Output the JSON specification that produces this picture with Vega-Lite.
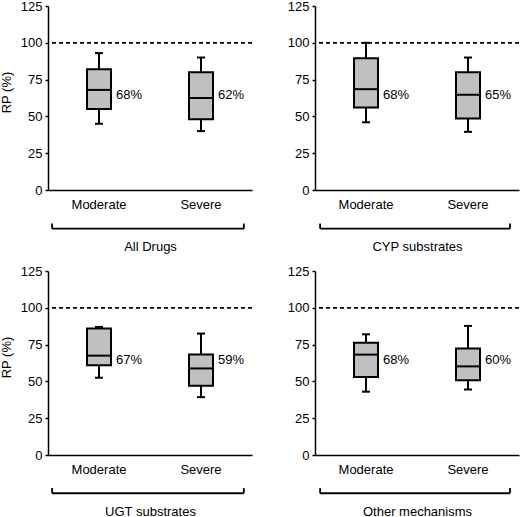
{
  "$schema": "https://vega.github.io/schema/vega-lite/v6.json",
  "padding": {"left": 0, "top": 0, "right": 0, "bottom": 0},
  "background": "white",
  "config": {
    "view": {"stroke": null},
    "font": "Liberation Sans",
    "axis": {
      "domainColor": "black", "domainWidth": 1.5,
      "tickColor": "black", "tickWidth": 1.5,
      "labelColor": "black", "labelFont": "Liberation Sans", "labelFontSize": 13,
      "titleColor": "black", "titleFont": "Liberation Sans", "titleFontSize": 13, "titleFontWeight": "normal",
      "grid": false
    }
  },
  "data": {"values": [
    {"group": "All Drugs", "severity": "Moderate", "min": 45, "q1": 55, "median": 68, "q3": 82, "max": 93, "label": "68%"},
    {"group": "All Drugs", "severity": "Severe", "min": 40, "q1": 48, "median": 62.5, "q3": 80, "max": 90, "label": "62%"},
    {"group": "CYP substrates", "severity": "Moderate", "min": 46, "q1": 56, "median": 68.5, "q3": 89.5, "max": 100, "label": "68%"},
    {"group": "CYP substrates", "severity": "Severe", "min": 39.5, "q1": 48.5, "median": 64.7, "q3": 80, "max": 90, "label": "65%"},
    {"group": "UGT substrates", "severity": "Moderate", "min": 52.5, "q1": 61, "median": 67.5, "q3": 86, "max": 87, "label": "67%"},
    {"group": "UGT substrates", "severity": "Severe", "min": 39.3, "q1": 47, "median": 58.8, "q3": 68.2, "max": 82.5, "label": "59%"},
    {"group": "Other mechanisms", "severity": "Moderate", "min": 43, "q1": 53, "median": 68.2, "q3": 76.3, "max": 82, "label": "68%"},
    {"group": "Other mechanisms", "severity": "Severe", "min": 44.5, "q1": 50.7, "median": 60.2, "q3": 72.3, "max": 87.7, "label": "60%"}
  ]},
  "columns": 2,
  "spacing": {"row": 12, "column": 34},
  "concat": [
    {
      "width": 204, "height": 184,
      "resolve": {"scale": {"x": "independent"}},
      "layer": [
        {
          "transform": [{"filter": "datum.group === 'All Drugs'"}],
          "encoding": {
            "x": {"field": "severity", "type": "nominal", "sort": ["Moderate", "Severe"],
                  "scale": {"paddingInner": 0, "paddingOuter": 0},
                  "axis": {"title": "All Drugs", "ticks": false, "tickSize": 0, "labelPadding": 8, "labelAngle": 0, "titlePadding": 29}}
          },
          "layer": [
            {"mark": {"type": "rule", "strokeDash": [4, 3], "strokeWidth": 1.5, "color": "black"},
             "encoding": {"x": null, "y": {"datum": 100, "type": "quantitative", "scale": {"domain": [0, 125], "nice": false},
               "axis": {"values": [0, 25, 50, 75, 100, 125], "tickSize": 3, "labelPadding": 3, "title": "RP (%)", "titlePadding": 7, "titleY": 86}}}},
            {"mark": {"type": "rule", "strokeWidth": 2, "color": "black"},
             "encoding": {"y": {"field": "min", "type": "quantitative", "axis": {"values": [0, 25, 50, 75, 100, 125], "tickSize": 3, "labelPadding": 3, "title": "RP (%)", "titlePadding": 7, "titleY": 86}}, "y2": {"field": "max"}}},
            {"mark": {"type": "tick", "orient": "horizontal", "size": 8, "thickness": 2, "color": "black", "opacity": 1},
             "encoding": {"y": {"field": "min", "type": "quantitative", "axis": {"values": [0, 25, 50, 75, 100, 125], "tickSize": 3, "labelPadding": 3, "title": "RP (%)", "titlePadding": 7, "titleY": 86}}}},
            {"mark": {"type": "tick", "orient": "horizontal", "size": 8, "thickness": 2, "color": "black", "opacity": 1},
             "encoding": {"y": {"field": "max", "type": "quantitative", "axis": {"values": [0, 25, 50, 75, 100, 125], "tickSize": 3, "labelPadding": 3, "title": "RP (%)", "titlePadding": 7, "titleY": 86}}}},
            {"mark": {"type": "bar", "size": 24, "fill": "#c0c0c0", "stroke": "black", "strokeWidth": 2},
             "encoding": {"y": {"field": "q1", "type": "quantitative", "axis": {"values": [0, 25, 50, 75, 100, 125], "tickSize": 3, "labelPadding": 3, "title": "RP (%)", "titlePadding": 7, "titleY": 86}}, "y2": {"field": "q3"}}},
            {"mark": {"type": "tick", "orient": "horizontal", "size": 24, "thickness": 2, "color": "black", "opacity": 1},
             "encoding": {"y": {"field": "median", "type": "quantitative", "axis": {"values": [0, 25, 50, 75, 100, 125], "tickSize": 3, "labelPadding": 3, "title": "RP (%)", "titlePadding": 7, "titleY": 86}}}},
            {"mark": {"type": "text", "align": "left", "baseline": "middle", "dx": 17, "fontSize": 13, "color": "black"},
             "encoding": {"y": {"datum": 64.5, "type": "quantitative", "axis": {"values": [0, 25, 50, 75, 100, 125], "tickSize": 3, "labelPadding": 3, "title": "RP (%)", "titlePadding": 7, "titleY": 86}}, "text": {"field": "label"}}}
          ]
        },
        {"data": {"values": [{}]}, "mark": {"type": "rule", "strokeWidth": 1.8, "color": "black"},
         "encoding": {"x": {"datum": 0.02, "type": "quantitative", "scale": {"domain": [0, 1]}, "axis": null}, "x2": {"datum": 0.96},
           "y": {"datum": -26.3, "type": "quantitative", "axis": {"values": [0, 25, 50, 75, 100, 125], "tickSize": 3, "labelPadding": 3, "title": "RP (%)", "titlePadding": 7, "titleY": 86}}}},
        {"data": {"values": [{}]}, "mark": {"type": "rule", "strokeWidth": 1.8, "color": "black"},
         "encoding": {"x": {"datum": 0.02, "type": "quantitative", "scale": {"domain": [0, 1]}, "axis": null},
           "y": {"datum": -26.3, "type": "quantitative", "axis": {"values": [0, 25, 50, 75, 100, 125], "tickSize": 3, "labelPadding": 3, "title": "RP (%)", "titlePadding": 7, "titleY": 86}}, "y2": {"datum": -22.8}}},
        {"data": {"values": [{}]}, "mark": {"type": "rule", "strokeWidth": 1.8, "color": "black"},
         "encoding": {"x": {"datum": 0.96, "type": "quantitative", "scale": {"domain": [0, 1]}, "axis": null},
           "y": {"datum": -26.3, "type": "quantitative", "axis": {"values": [0, 25, 50, 75, 100, 125], "tickSize": 3, "labelPadding": 3, "title": "RP (%)", "titlePadding": 7, "titleY": 86}}, "y2": {"datum": -22.8}}}
      ]
    },
    {
      "width": 204, "height": 184,
      "resolve": {"scale": {"x": "independent"}},
      "layer": [
        {
          "transform": [{"filter": "datum.group === 'CYP substrates'"}],
          "encoding": {
            "x": {"field": "severity", "type": "nominal", "sort": ["Moderate", "Severe"],
                  "scale": {"paddingInner": 0, "paddingOuter": 0},
                  "axis": {"title": "CYP substrates", "ticks": false, "tickSize": 0, "labelPadding": 8, "labelAngle": 0, "titlePadding": 29}}
          },
          "layer": [
            {"mark": {"type": "rule", "strokeDash": [4, 3], "strokeWidth": 1.5, "color": "black"},
             "encoding": {"x": null, "y": {"datum": 100, "type": "quantitative", "scale": {"domain": [0, 125], "nice": false},
               "axis": {"values": [0, 25, 50, 75, 100, 125], "tickSize": 3, "labelPadding": 3, "title": null}}}},
            {"mark": {"type": "rule", "strokeWidth": 2, "color": "black"},
             "encoding": {"y": {"field": "min", "type": "quantitative", "axis": {"values": [0, 25, 50, 75, 100, 125], "tickSize": 3, "labelPadding": 3, "title": null}}, "y2": {"field": "max"}}},
            {"mark": {"type": "tick", "orient": "horizontal", "size": 8, "thickness": 2, "color": "black", "opacity": 1},
             "encoding": {"y": {"field": "min", "type": "quantitative", "axis": {"values": [0, 25, 50, 75, 100, 125], "tickSize": 3, "labelPadding": 3, "title": null}}}},
            {"mark": {"type": "tick", "orient": "horizontal", "size": 8, "thickness": 2, "color": "black", "opacity": 1},
             "encoding": {"y": {"field": "max", "type": "quantitative", "axis": {"values": [0, 25, 50, 75, 100, 125], "tickSize": 3, "labelPadding": 3, "title": null}}}},
            {"mark": {"type": "bar", "size": 24, "fill": "#c0c0c0", "stroke": "black", "strokeWidth": 2},
             "encoding": {"y": {"field": "q1", "type": "quantitative", "axis": {"values": [0, 25, 50, 75, 100, 125], "tickSize": 3, "labelPadding": 3, "title": null}}, "y2": {"field": "q3"}}},
            {"mark": {"type": "tick", "orient": "horizontal", "size": 24, "thickness": 2, "color": "black", "opacity": 1},
             "encoding": {"y": {"field": "median", "type": "quantitative", "axis": {"values": [0, 25, 50, 75, 100, 125], "tickSize": 3, "labelPadding": 3, "title": null}}}},
            {"mark": {"type": "text", "align": "left", "baseline": "middle", "dx": 17, "fontSize": 13, "color": "black"},
             "encoding": {"y": {"datum": 64.5, "type": "quantitative", "axis": {"values": [0, 25, 50, 75, 100, 125], "tickSize": 3, "labelPadding": 3, "title": null}}, "text": {"field": "label"}}}
          ]
        },
        {"data": {"values": [{}]}, "mark": {"type": "rule", "strokeWidth": 1.8, "color": "black"},
         "encoding": {"x": {"datum": 0.025, "type": "quantitative", "scale": {"domain": [0, 1]}, "axis": null}, "x2": {"datum": 0.956},
           "y": {"datum": -26.3, "type": "quantitative", "axis": {"values": [0, 25, 50, 75, 100, 125], "tickSize": 3, "labelPadding": 3, "title": null}}}},
        {"data": {"values": [{}]}, "mark": {"type": "rule", "strokeWidth": 1.8, "color": "black"},
         "encoding": {"x": {"datum": 0.025, "type": "quantitative", "scale": {"domain": [0, 1]}, "axis": null},
           "y": {"datum": -26.3, "type": "quantitative", "axis": {"values": [0, 25, 50, 75, 100, 125], "tickSize": 3, "labelPadding": 3, "title": null}}, "y2": {"datum": -22.8}}},
        {"data": {"values": [{}]}, "mark": {"type": "rule", "strokeWidth": 1.8, "color": "black"},
         "encoding": {"x": {"datum": 0.956, "type": "quantitative", "scale": {"domain": [0, 1]}, "axis": null},
           "y": {"datum": -26.3, "type": "quantitative", "axis": {"values": [0, 25, 50, 75, 100, 125], "tickSize": 3, "labelPadding": 3, "title": null}}, "y2": {"datum": -22.8}}}
      ]
    },
    {
      "width": 204, "height": 184,
      "resolve": {"scale": {"x": "independent"}},
      "layer": [
        {
          "transform": [{"filter": "datum.group === 'UGT substrates'"}],
          "encoding": {
            "x": {"field": "severity", "type": "nominal", "sort": ["Moderate", "Severe"],
                  "scale": {"paddingInner": 0, "paddingOuter": 0},
                  "axis": {"title": "UGT substrates", "ticks": false, "tickSize": 0, "labelPadding": 8, "labelAngle": 0, "titlePadding": 29}}
          },
          "layer": [
            {"mark": {"type": "rule", "strokeDash": [4, 3], "strokeWidth": 1.5, "color": "black"},
             "encoding": {"x": null, "y": {"datum": 100, "type": "quantitative", "scale": {"domain": [0, 125], "nice": false},
               "axis": {"values": [0, 25, 50, 75, 100, 125], "tickSize": 3, "labelPadding": 3, "title": "RP (%)", "titlePadding": 7, "titleY": 86}}}},
            {"mark": {"type": "rule", "strokeWidth": 2, "color": "black"},
             "encoding": {"y": {"field": "min", "type": "quantitative", "axis": {"values": [0, 25, 50, 75, 100, 125], "tickSize": 3, "labelPadding": 3, "title": "RP (%)", "titlePadding": 7, "titleY": 86}}, "y2": {"field": "max"}}},
            {"mark": {"type": "tick", "orient": "horizontal", "size": 8, "thickness": 2, "color": "black", "opacity": 1},
             "encoding": {"y": {"field": "min", "type": "quantitative", "axis": {"values": [0, 25, 50, 75, 100, 125], "tickSize": 3, "labelPadding": 3, "title": "RP (%)", "titlePadding": 7, "titleY": 86}}}},
            {"mark": {"type": "tick", "orient": "horizontal", "size": 8, "thickness": 2, "color": "black", "opacity": 1},
             "encoding": {"y": {"field": "max", "type": "quantitative", "axis": {"values": [0, 25, 50, 75, 100, 125], "tickSize": 3, "labelPadding": 3, "title": "RP (%)", "titlePadding": 7, "titleY": 86}}}},
            {"mark": {"type": "bar", "size": 24, "fill": "#c0c0c0", "stroke": "black", "strokeWidth": 2},
             "encoding": {"y": {"field": "q1", "type": "quantitative", "axis": {"values": [0, 25, 50, 75, 100, 125], "tickSize": 3, "labelPadding": 3, "title": "RP (%)", "titlePadding": 7, "titleY": 86}}, "y2": {"field": "q3"}}},
            {"mark": {"type": "tick", "orient": "horizontal", "size": 24, "thickness": 2, "color": "black", "opacity": 1},
             "encoding": {"y": {"field": "median", "type": "quantitative", "axis": {"values": [0, 25, 50, 75, 100, 125], "tickSize": 3, "labelPadding": 3, "title": "RP (%)", "titlePadding": 7, "titleY": 86}}}},
            {"mark": {"type": "text", "align": "left", "baseline": "middle", "dx": 17, "fontSize": 13, "color": "black"},
             "encoding": {"y": {"datum": 64.5, "type": "quantitative", "axis": {"values": [0, 25, 50, 75, 100, 125], "tickSize": 3, "labelPadding": 3, "title": "RP (%)", "titlePadding": 7, "titleY": 86}}, "text": {"field": "label"}}}
          ]
        },
        {"data": {"values": [{}]}, "mark": {"type": "rule", "strokeWidth": 1.8, "color": "black"},
         "encoding": {"x": {"datum": 0.02, "type": "quantitative", "scale": {"domain": [0, 1]}, "axis": null}, "x2": {"datum": 0.96},
           "y": {"datum": -26, "type": "quantitative", "axis": {"values": [0, 25, 50, 75, 100, 125], "tickSize": 3, "labelPadding": 3, "title": "RP (%)", "titlePadding": 7, "titleY": 86}}}},
        {"data": {"values": [{}]}, "mark": {"type": "rule", "strokeWidth": 1.8, "color": "black"},
         "encoding": {"x": {"datum": 0.02, "type": "quantitative", "scale": {"domain": [0, 1]}, "axis": null},
           "y": {"datum": -26, "type": "quantitative", "axis": {"values": [0, 25, 50, 75, 100, 125], "tickSize": 3, "labelPadding": 3, "title": "RP (%)", "titlePadding": 7, "titleY": 86}}, "y2": {"datum": -22.5}}},
        {"data": {"values": [{}]}, "mark": {"type": "rule", "strokeWidth": 1.8, "color": "black"},
         "encoding": {"x": {"datum": 0.96, "type": "quantitative", "scale": {"domain": [0, 1]}, "axis": null},
           "y": {"datum": -26, "type": "quantitative", "axis": {"values": [0, 25, 50, 75, 100, 125], "tickSize": 3, "labelPadding": 3, "title": "RP (%)", "titlePadding": 7, "titleY": 86}}, "y2": {"datum": -22.5}}}
      ]
    },
    {
      "width": 204, "height": 184,
      "resolve": {"scale": {"x": "independent"}},
      "layer": [
        {
          "transform": [{"filter": "datum.group === 'Other mechanisms'"}],
          "encoding": {
            "x": {"field": "severity", "type": "nominal", "sort": ["Moderate", "Severe"],
                  "scale": {"paddingInner": 0, "paddingOuter": 0},
                  "axis": {"title": "Other  mechanisms", "ticks": false, "tickSize": 0, "labelPadding": 8, "labelAngle": 0, "titlePadding": 29}}
          },
          "layer": [
            {"mark": {"type": "rule", "strokeDash": [4, 3], "strokeWidth": 1.5, "color": "black"},
             "encoding": {"x": null, "y": {"datum": 100, "type": "quantitative", "scale": {"domain": [0, 125], "nice": false},
               "axis": {"values": [0, 25, 50, 75, 100, 125], "tickSize": 3, "labelPadding": 3, "title": null}}}},
            {"mark": {"type": "rule", "strokeWidth": 2, "color": "black"},
             "encoding": {"y": {"field": "min", "type": "quantitative", "axis": {"values": [0, 25, 50, 75, 100, 125], "tickSize": 3, "labelPadding": 3, "title": null}}, "y2": {"field": "max"}}},
            {"mark": {"type": "tick", "orient": "horizontal", "size": 8, "thickness": 2, "color": "black", "opacity": 1},
             "encoding": {"y": {"field": "min", "type": "quantitative", "axis": {"values": [0, 25, 50, 75, 100, 125], "tickSize": 3, "labelPadding": 3, "title": null}}}},
            {"mark": {"type": "tick", "orient": "horizontal", "size": 8, "thickness": 2, "color": "black", "opacity": 1},
             "encoding": {"y": {"field": "max", "type": "quantitative", "axis": {"values": [0, 25, 50, 75, 100, 125], "tickSize": 3, "labelPadding": 3, "title": null}}}},
            {"mark": {"type": "bar", "size": 24, "fill": "#c0c0c0", "stroke": "black", "strokeWidth": 2},
             "encoding": {"y": {"field": "q1", "type": "quantitative", "axis": {"values": [0, 25, 50, 75, 100, 125], "tickSize": 3, "labelPadding": 3, "title": null}}, "y2": {"field": "q3"}}},
            {"mark": {"type": "tick", "orient": "horizontal", "size": 24, "thickness": 2, "color": "black", "opacity": 1},
             "encoding": {"y": {"field": "median", "type": "quantitative", "axis": {"values": [0, 25, 50, 75, 100, 125], "tickSize": 3, "labelPadding": 3, "title": null}}}},
            {"mark": {"type": "text", "align": "left", "baseline": "middle", "dx": 17, "fontSize": 13, "color": "black"},
             "encoding": {"y": {"datum": 64.5, "type": "quantitative", "axis": {"values": [0, 25, 50, 75, 100, 125], "tickSize": 3, "labelPadding": 3, "title": null}}, "text": {"field": "label"}}}
          ]
        },
        {"data": {"values": [{}]}, "mark": {"type": "rule", "strokeWidth": 1.8, "color": "black"},
         "encoding": {"x": {"datum": 0.025, "type": "quantitative", "scale": {"domain": [0, 1]}, "axis": null}, "x2": {"datum": 0.956},
           "y": {"datum": -26, "type": "quantitative", "axis": {"values": [0, 25, 50, 75, 100, 125], "tickSize": 3, "labelPadding": 3, "title": null}}}},
        {"data": {"values": [{}]}, "mark": {"type": "rule", "strokeWidth": 1.8, "color": "black"},
         "encoding": {"x": {"datum": 0.025, "type": "quantitative", "scale": {"domain": [0, 1]}, "axis": null},
           "y": {"datum": -26, "type": "quantitative", "axis": {"values": [0, 25, 50, 75, 100, 125], "tickSize": 3, "labelPadding": 3, "title": null}}, "y2": {"datum": -22.5}}},
        {"data": {"values": [{}]}, "mark": {"type": "rule", "strokeWidth": 1.8, "color": "black"},
         "encoding": {"x": {"datum": 0.956, "type": "quantitative", "scale": {"domain": [0, 1]}, "axis": null},
           "y": {"datum": -26, "type": "quantitative", "axis": {"values": [0, 25, 50, 75, 100, 125], "tickSize": 3, "labelPadding": 3, "title": null}}, "y2": {"datum": -22.5}}}
      ]
    }
  ]
}
